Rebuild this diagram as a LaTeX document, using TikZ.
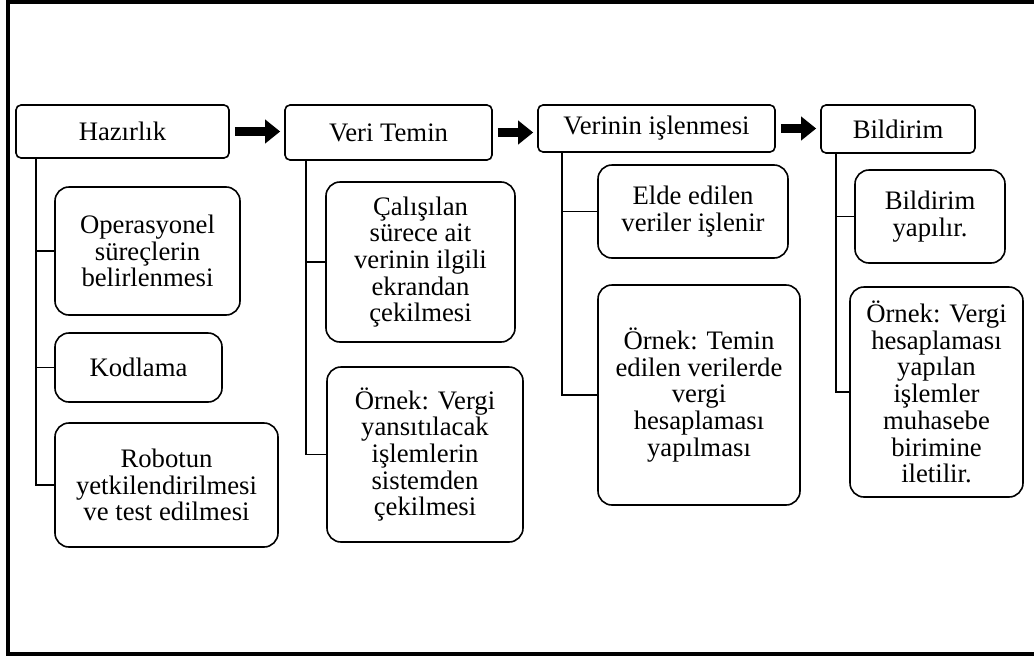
\documentclass[tikz,border=0pt]{standalone}
\usepackage{fontspec}
\setmainfont{Liberation Serif}
\usetikzlibrary{arrows.meta}

\begin{document}
\begin{tikzpicture}[x=1pt,y=-1pt,
  stage/.style={draw, line width=1.6pt, rounded corners=5pt, inner sep=0pt,
    align=center, font=\fontsize{26.7}{26.7}\selectfont},
  task/.style={stage, rounded corners=14pt},
  branch/.style={line width=1.6pt},
  flow/.style={line width=9pt, -{Triangle[length=15pt,width=23pt]},
    shorten <=5pt, shorten >=4pt}]
\useasboundingbox (0,0) rectangle (1034,659);

% frame
\draw[line width=4pt] (1036,2) -- (8,2) -- (8,654) -- (1036,654);

% stages
\node[stage, minimum width=213pt, minimum height=53pt] (hz) at (122.5,131.5) {Hazırlık};
\node[stage, minimum width=207pt, minimum height=55pt] (vt) at (388.5,132.5) {Veri Temin};
\node[stage, minimum width=237pt, minimum height=47pt] (vi) at (656.5,128.5) {Verinin işlenmesi};
\node[stage, minimum width=154pt, minimum height=48pt] (bd) at (898,129) {Bildirim};

\draw[flow] (hz.east) -- (hz.east -| vt.west);
\draw[flow] (vt.east) -- (vt.east -| vi.west);
\draw[flow] (vi.east) -- (vi.east -| bd.west);

% Hazırlık
\node[task, minimum width=185pt, minimum height=128pt] (op) at (147.5,251) {Operasyonel\\süreçlerin\\belirlenmesi};
\node[task, minimum width=167pt, minimum height=69pt] (kd) at (138.5,367.5) {Kodlama};
\node[task, minimum width=223pt, minimum height=124pt] (rb) at (166.5,485) {Robotun\\yetkilendirilmesi\\ve test edilmesi};

% Veri Temin
\node[task, minimum width=189pt, minimum height=160pt] (cs) at (420.5,262) {Çalışılan\\sürece ait\\verinin ilgili\\ekrandan\\çekilmesi};
\node[task, minimum width=196pt, minimum height=175pt] (ov) at (425,454.5) {Örnek: Vergi\\yansıtılacak\\işlemlerin\\sistemden\\çekilmesi};

% Verinin işlenmesi
\node[task, minimum width=190pt, minimum height=93pt] (ee) at (693,211.5) {Elde edilen\\veriler işlenir};
\node[task, minimum width=202pt, minimum height=220pt] (ot) at (699,395) {Örnek: Temin\\edilen verilerde\\vergi\\hesaplaması\\yapılması};

% Bildirim
\node[task, minimum width=150pt, minimum height=93pt] (by) at (930,216.5) {Bildirim\\yapılır.};
\node[task, minimum width=173pt, minimum height=210pt] (ob) at (936.5,392) {Örnek: Vergi\\hesaplaması\\yapılan\\işlemler\\muhasebe\\birimine\\iletilir.};

% branches
\coordinate (hzb) at ([xshift=21pt]hz.south west);
\coordinate (vtb) at ([xshift=22pt]vt.south west);
\coordinate (vib) at ([xshift=25pt]vi.south west);
\coordinate (bdb) at ([xshift=16pt]bd.south west);
\draw[branch] (hzb) |- (op.west);
\draw[branch] (hzb) |- (kd.west);
\draw[branch] (hzb) |- (rb.west);
\draw[branch] (vtb) |- (cs.west);
\draw[branch] (vtb) |- (ov.west);
\draw[branch] (vib) |- (ee.west);
\draw[branch] (vib) |- (ot.west);
\draw[branch] (bdb) |- (by.west);
\draw[branch] (bdb) |- (ob.west);
\end{tikzpicture}
\end{document}
